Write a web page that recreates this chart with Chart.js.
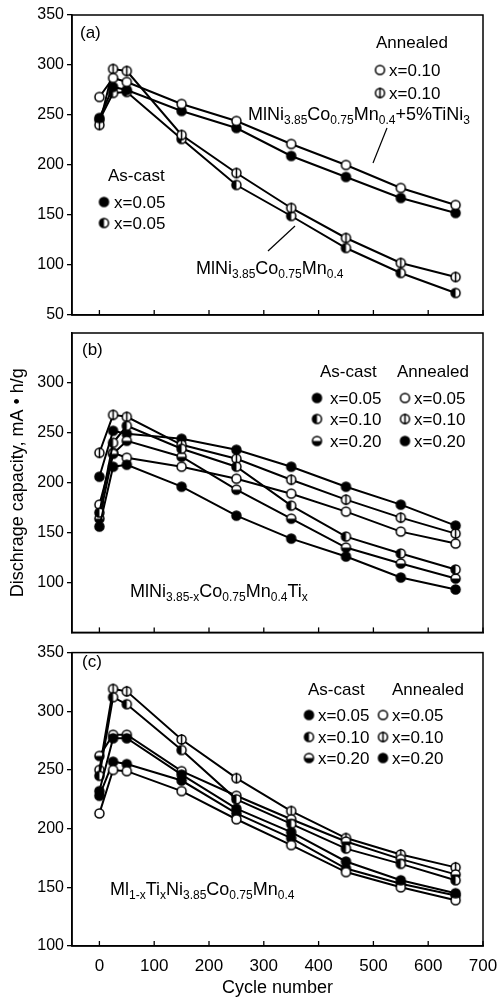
<!DOCTYPE html>
<html><head><meta charset="utf-8">
<script src="https://cdn.jsdelivr.net/npm/chart.js@4.4.0/dist/chart.umd.min.js"></script>
<style>
html,body{margin:0;padding:0;background:#fff;width:500px;height:999px;overflow:hidden}
canvas{position:absolute;left:0}
</style></head><body>
<canvas id="ca" width="500" height="330" style="top:0px"></canvas>
<canvas id="cb" width="500" height="325" style="top:320px"></canvas>
<canvas id="cc" width="500" height="359" style="top:640px"></canvas>
<script>
// ---------- data ----------
const cycles = [0, 25, 50, 150, 250, 350, 450, 550, 650];
const xTicks = [0, 100, 200, 300, 400, 500, 600, 700];

// panel (a)
const aTicks = [50, 100, 150, 200, 250, 300, 350];
const aAnnealedTi = [268, 287, 283, 261, 244, 221, 200, 177, 160];
const aAsCastTi   = [247, 278, 275, 254, 237, 209, 188, 167, 152];
const aAnnealed   = [240, 296, 294, 230, 192, 157, 127, 102, 88];
const aAsCast     = [245, 272, 273, 226, 180, 149, 117, 92, 72];

// panel (b)
const bTicks = [100, 150, 200, 250, 300];
const bAsCast005 = [156, 216, 218, 196, 167, 144, 126, 105, 93];
const bAsCast010 = [170, 240, 257, 234, 216, 177, 146, 129, 113];
const bAsCast020 = [164, 229, 242, 226, 193, 164, 135, 119, 104];
const bAnn005    = [178, 230, 225, 216, 204, 189, 171, 151, 139];
const bAnn010    = [230, 268, 266, 238, 224, 203, 183, 165, 149];
const bAnn020    = [206, 252, 249, 244, 233, 216, 196, 178, 157];

// panel (c)
const cTicks = [100, 150, 200, 250, 300, 350];
const cAsCast005 = [232, 277, 277, 246, 217, 197, 172, 156, 145];
const cAsCast010 = [245, 312, 306, 267, 225, 204, 183, 170, 156];
const cAsCast020 = [262, 280, 280, 249, 228, 208, 189, 174, 161];
const cAnn005    = [213, 250, 249, 232, 208, 186, 163, 150, 139];
const cAnn010    = [250, 319, 317, 276, 243, 215, 192, 178, 167];
const cAnn020    = [228, 257, 255, 241, 213, 192, 166, 153, 143];

const yTitle = 'Dischrage capacity, mA \u2022 h/g';
const xTitle = 'Cycle number';

// ---------- markers ----------
function makeMarker(type){
  const c = document.createElement('canvas'); c.width = 13; c.height = 13;
  const g = c.getContext('2d'); const cx = 6.5, cy = 6.5, r = 4.5;
  g.beginPath(); g.arc(cx, cy, r, 0, 2*Math.PI);
  g.fillStyle = type === 'filled' ? '#000' : '#fff'; g.fill();
  g.fillStyle = '#000';
  const half = {left:[Math.PI/2, Math.PI*1.5], top:[Math.PI, Math.PI*2], right:[-Math.PI/2, Math.PI/2], bottom:[0, Math.PI]};
  if (half[type]) { g.beginPath(); g.moveTo(cx, cy); g.arc(cx, cy, r, half[type][0], half[type][1]); g.closePath(); g.fill(); }
  g.strokeStyle = '#000'; g.lineWidth = 1.5;
  if (type === 'phi') { g.beginPath(); g.moveTo(cx, cy - r - 1); g.lineTo(cx, cy + r + 1); g.stroke(); }
  g.beginPath(); g.arc(cx, cy, r, 0, 2*Math.PI); g.stroke();
  return c;
}
const M = {};
['open','filled','left','top','right','bottom','phi'].forEach(t => M[t] = makeMarker(t));

function ds(values, marker){
  return {
    data: cycles.map((c, i) => ({x: c, y: values[i]})),
    borderColor: '#000', borderWidth: 2, pointStyle: M[marker],
    pointRadius: 4.5, fill: false, tension: 0
  };
}

Chart.defaults.font.family = "'Liberation Sans', Arial, sans-serif";
Chart.defaults.color = '#000';

function rich(ctx, x, y, parts, size){
  let cx = x;
  for (const [t, sub] of parts){
    ctx.font = (sub ? Math.round(size*0.66) : size) + "px 'Liberation Sans', Arial, sans-serif";
    ctx.fillText(t, cx, sub ? y + 4 : y);
    cx += ctx.measureText(t).width;
  }
}

function decoPlugin(cfg){
  return {
    id: 'deco',
    afterDraw(chart){
      const ctx = chart.ctx, a = chart.chartArea, xs = chart.scales.x;
      ctx.save();
      ctx.strokeStyle = '#000'; ctx.lineWidth = 1.5;
      ctx.strokeRect(a.left, a.top, a.right - a.left, a.bottom - a.top);
      ctx.lineWidth = 1.3;
      xTicks.forEach(v => { const px = xs.getPixelForValue(v); ctx.beginPath(); ctx.moveTo(px, a.bottom); ctx.lineTo(px, a.bottom - 5); ctx.stroke(); });
      ctx.fillStyle = '#000'; ctx.textBaseline = 'alphabetic'; ctx.textAlign = 'left';
      (cfg.texts || []).forEach(t => rich(ctx, t.x, t.y, t.parts, t.size || 17));
      (cfg.marks || []).forEach(m => ctx.drawImage(M[m.m], m.x - 6.5, m.y - 6.5));
      ctx.lineWidth = 1.2;
      (cfg.lines || []).forEach(l => { ctx.beginPath(); ctx.moveTo(l[0], l[1]); ctx.lineTo(l[2], l[3]); ctx.stroke(); });
      ctx.restore();
    }
  };
}

function makePanel(id, datasets, yMin, yMax, yTickVals, pad, xHeight, showX, showYTitle, cfg){
  return new Chart(document.getElementById(id), {
    type: 'line',
    data: { datasets },
    options: {
      responsive: false, animation: false,
      layout: { padding: pad },
      plugins: { legend: {display: false}, tooltip: {enabled: false} },
      scales: {
        x: {
          type: 'linear', min: -50, max: 700,
          afterBuildTicks: s => { s.ticks = xTicks.map(v => ({value: v})); },
          afterFit: s => { s.height = xHeight; },
          grid: { display: false },
          border: { display: true, color: '#000', width: 1.5 },
          ticks: { display: showX, font: {size: 17}, padding: 2, color: '#000', maxRotation: 0 },
          title: { display: showX, text: xTitle, font: {size: 18}, color: '#000', padding: {top: 0, bottom: 0} }
        },
        y: {
          type: 'linear', min: yMin, max: yMax,
          afterBuildTicks: s => { s.ticks = yTickVals.map(v => ({value: v})); },
          afterFit: s => { s.width = 72; },
          grid: { display: true, drawOnChartArea: false, drawTicks: true, tickLength: 5, color: '#000', lineWidth: 1.3 },
          border: { display: true, color: '#000', width: 1.5 },
          ticks: { font: {size: 16}, padding: 3, color: '#000' },
          title: { display: showYTitle, text: yTitle, font: {size: 18}, color: '#000', padding: {top: 7, bottom: 0} }
        }
      }
    },
    plugins: [decoPlugin(cfg)]
  });
}

// ---------- panel (a) ----------
const subBase = [['MlNi'],['3.85',1],['Co'],['0.75',1],['Mn'],['0.4',1]];
makePanel('ca', [
  ds(aAnnealedTi, 'open'), ds(aAsCastTi, 'filled'), ds(aAnnealed, 'phi'), ds(aAsCast, 'left')
], 50, 350, aTicks, {left: 0, right: 17, top: 15, bottom: 15}, 0, false, false, {
  texts: [
    {x: 80, y: 38, parts: [['(a)']]},
    {x: 376, y: 48, parts: [['Annealed']]},
    {x: 389, y: 76, parts: [['x=0.10']]},
    {x: 389, y: 99, parts: [['x=0.10']]},
    {x: 108, y: 181, parts: [['As-cast']]},
    {x: 114, y: 208, parts: [['x=0.05']]},
    {x: 114, y: 229, parts: [['x=0.05']]},
    {x: 248, y: 120, parts: subBase.concat([['+5%TiNi'],['3',1]]), size: 18},
    {x: 196, y: 274, parts: subBase, size: 18}
  ],
  marks: [
    {m: 'open', x: 380, y: 70}, {m: 'phi', x: 380, y: 93},
    {m: 'filled', x: 104, y: 202}, {m: 'left', x: 104, y: 223}
  ],
  lines: [[387, 128, 373, 163], [295, 226, 268, 251]]
});

// ---------- panel (b) ----------
makePanel('cb', [
  ds(bAsCast005, 'filled'), ds(bAsCast010, 'left'), ds(bAsCast020, 'bottom'),
  ds(bAnn005, 'open'), ds(bAnn010, 'phi'), ds(bAnn020, 'filled')
], 50, 350, bTicks, {left: 0, right: 17, top: 13, bottom: 12}, 0, false, true, {
  texts: [
    {x: 82, y: 35, parts: [['(b)']]},
    {x: 320, y: 57, parts: [['As-cast']]},
    {x: 397, y: 57, parts: [['Annealed']]},
    {x: 330, y: 84, parts: [['x=0.05']]}, {x: 330, y: 105, parts: [['x=0.10']]}, {x: 330, y: 127, parts: [['x=0.20']]},
    {x: 414, y: 84, parts: [['x=0.05']]}, {x: 414, y: 105, parts: [['x=0.10']]}, {x: 414, y: 127, parts: [['x=0.20']]},
    {x: 130, y: 277, parts: [['MlNi'],['3.85-x',1],['Co'],['0.75',1],['Mn'],['0.4',1],['Ti'],['x',1]], size: 18}
  ],
  marks: [
    {m: 'filled', x: 317, y: 78}, {m: 'left', x: 317, y: 99}, {m: 'bottom', x: 317, y: 121},
    {m: 'open', x: 405, y: 78}, {m: 'phi', x: 405, y: 99}, {m: 'filled', x: 405, y: 121}
  ]
});

// ---------- panel (c) ----------
makePanel('cc', [
  ds(cAsCast005, 'filled'), ds(cAsCast010, 'left'), ds(cAsCast020, 'bottom'),
  ds(cAnn005, 'open'), ds(cAnn010, 'phi'), ds(cAnn020, 'filled')
], 100, 350, cTicks, {left: 0, right: 17, top: 8, bottom: 0}, 53, true, false, {
  texts: [
    {x: 82, y: 27, parts: [['(c)']]},
    {x: 308, y: 55, parts: [['As-cast']]},
    {x: 392, y: 55, parts: [['Annealed']]},
    {x: 318, y: 81, parts: [['x=0.05']]}, {x: 318, y: 103, parts: [['x=0.10']]}, {x: 318, y: 124, parts: [['x=0.20']]},
    {x: 392, y: 81, parts: [['x=0.05']]}, {x: 392, y: 103, parts: [['x=0.10']]}, {x: 392, y: 124, parts: [['x=0.20']]},
    {x: 110, y: 255, parts: [['Ml'],['1-x',1],['Ti'],['x',1],['Ni'],['3.85',1],['Co'],['0.75',1],['Mn'],['0.4',1]], size: 18}
  ],
  marks: [
    {m: 'filled', x: 309, y: 75}, {m: 'left', x: 309, y: 97}, {m: 'bottom', x: 309, y: 118},
    {m: 'open', x: 383, y: 75}, {m: 'phi', x: 383, y: 97}, {m: 'filled', x: 383, y: 118}
  ]
});
</script></body></html>
